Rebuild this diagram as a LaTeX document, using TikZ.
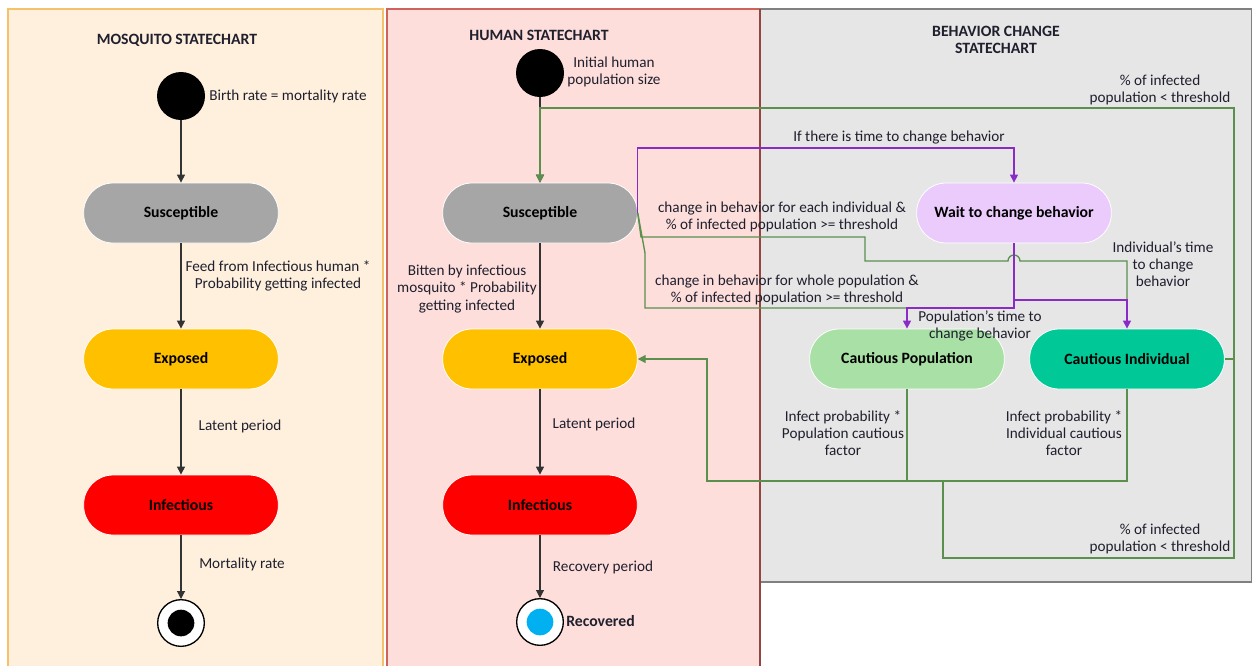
\documentclass[tikz,border=0pt]{standalone}
\usepackage{fontspec}
\setmainfont{Carlito}
\usetikzlibrary{arrows.meta}
\definecolor{mosfill}{HTML}{FEF0DD}
\definecolor{mosline}{HTML}{F5C26B}
\definecolor{humfill}{HTML}{FDDEDB}
\definecolor{humline}{HTML}{D0625C}
\definecolor{behfill}{HTML}{E6E6E6}
\definecolor{behline}{HTML}{808080}
\definecolor{susc}{HTML}{A6A6A6}
\definecolor{expo}{HTML}{FFC000}
\definecolor{infe}{HTML}{FF0000}
\definecolor{waitc}{HTML}{EACBFB}
\definecolor{cpopc}{HTML}{A8E0A5}
\definecolor{cindc}{HTML}{00C896}
\definecolor{recc}{HTML}{00B0F0}
\definecolor{grn}{HTML}{5A8F4E}
\definecolor{prp}{HTML}{8A2BC8}
\definecolor{txt}{HTML}{1F1F2E}
\begin{document}
\begin{tikzpicture}[x=0.75pt,y=-0.75pt,
  state/.style={rectangle, rounded corners=22pt, minimum width=146pt, minimum height=45pt, draw=white, line width=0.6pt, font=\bfseries\fontsize{11.8}{13}\selectfont, text=black},
  lbl/.style={font=\fontsize{11.4}{12.8}\selectfont, text=txt, align=center, inner sep=0pt},
  ttl/.style={font=\bfseries\fontsize{11.8}{12.5}\selectfont, text=txt, align=center, inner sep=0pt},
  initst/.style={circle, fill=black, minimum size=36pt, inner sep=0pt},
  finst/.style={circle, draw=black, line width=1pt, fill=white, minimum size=35pt, inner sep=0pt},
  fincore/.style={circle, minimum size=20pt, inner sep=0pt},
  tr/.style={draw=black!80, line width=0.8pt, -{Triangle[width=6pt,length=6pt]}},
  gtr/.style={draw=grn, line width=1pt},
  ptr/.style={draw=prp, line width=1pt},
  tip/.style={-{Triangle[width=6pt,length=6pt]}},
]
\path[use as bounding box] (0,0) rectangle (1252,665);
\clip (0,0) rectangle (1252,665);
\fill[white] (0,0) rectangle (1252,665);
% panels
\draw[mosline, fill=mosfill, line width=1pt] (8,9) rectangle (383,675);
\draw[humline, fill=humfill, line width=1pt] (387,9) rectangle (760,675);
\draw[behline, fill=behfill, line width=1pt] (760,9) rectangle (1251.5,582);
\draw[humline!70!black, line width=1pt] (760,9) -- (760,675);
% titles
\node[ttl] (tmos) at (177,40) {MOSQUITO STATECHART};
\node[ttl] (thum) at (539,35) {HUMAN STATECHART};
\node[ttl] (tbeh) at (996,40) {BEHAVIOR CHANGE\\STATECHART};
% mosquito states
\node[initst] (minit) at (181,96) {};
\node[state, fill=susc] (msus) at (181,213) {Susceptible};
\node[state, fill=expo] (mexp) at (181,359) {Exposed};
\node[state, fill=infe] (minf) at (181,505) {Infectious};
\node[finst] (mfin) at (181,623) {};
\node[fincore, fill=black] (mfinc) at (mfin) {};
% human states
\node[initst] (hinit) at (540,73) {};
\node[state, fill=susc] (hsus) at (540,213) {Susceptible};
\node[state, fill=expo] (hexp) at (540,359) {Exposed};
\node[state, fill=infe] (hinf) at (540,505) {Infectious};
\node[finst] (hfin) at (540,622) {};
\node[fincore, fill=recc] (hfinc) at (hfin) {};
% behavior states
\node[state, fill=waitc] (wait) at (1014,213) {Wait to change behavior};
\node[state, fill=cpopc] (cpop) at (907,359) {Cautious Population};
\node[state, fill=cindc] (cind) at (1127,359) {Cautious Individual};
% mosquito transitions
\draw[tr] (minit) -- (msus);
\draw[tr] (msus) -- (mexp);
\draw[tr] (mexp) -- (minf);
\draw[tr] (minf) -- (mfin);
% human transitions
\draw[tr] (hinit) -- (hsus);
\draw[tr] (hsus) -- (hexp);
\draw[tr] (hexp) -- (hinf);
\draw[tr] (hinf) -- (hfin);
% coordinates
\coordinate (gtopR) at (1234,108);
\coordinate (gmidR) at (1234,359);
\coordinate (gbotR) at (1234,558);
\coordinate (gbotL) at (943,558);
\coordinate (gjoin) at (943,481);
\coordinate (gleftB) at (707,481);
\coordinate (gleftT) at (707,359);
\coordinate (pind) at (1127,300);
\coordinate (ppop) at (907,308);
% green transitions
\draw[gtr, tip] (cind.east) -- (gmidR) -- (gtopR) -- (hsus.north |- gtopR) -- (hsus.north);
\draw[gtr] (gjoin) -- (gbotL) -- (gbotR) -- (gmidR);
\draw[gtr] (cpop.south) -- (cpop.south |- gjoin);
\draw[gtr, tip] (cind.south) -- (cind.south |- gjoin) -- (gleftB) -- (gleftT) -- (hexp.east);
\draw[gtr] (hsus.east) -- (645,253) -- (645,308) -- (ppop);
\draw[gtr] (hsus.east) -- (641,237) -- (865,237) -- (865,261) -- (1008,261)
   arc[start angle=180, end angle=0, radius=4.5pt] -- (1127,261) -- (pind);
% purple transitions
\draw[ptr, tip] (hsus.east) -- (hsus.east |- 0,148) -- (wait.north |- 0,148) -- (wait.north);
\draw[ptr, tip] (wait.south) -- (wait.south |- pind) -- (pind) -- (cind.north);
\draw[ptr, tip] (wait.south) -- (wait.south |- ppop) -- (ppop) -- (cpop.north);
% labels
\node[lbl, anchor=west] (lbirth) at (209,96) {Birth rate = mortality rate};
\node[lbl] (lfeed) at (278,276) {Feed from Infectious human *\\Probability getting infected};
\node[lbl] (lmlat) at (240,426) {Latent period};
\node[lbl] (lmort) at (242,564) {Mortality rate};
\node[lbl] (linit) at (614,72) {Initial human\\population size};
\node[lbl] (lbit) at (467,289) {Bitten by infectious\\mosquito * Probability\\getting infected};
\node[lbl] (lhlat) at (594,424) {Latent period};
\node[lbl] (lrec) at (603,567) {Recovery period};
\node[ttl, anchor=west] (lrecd) at (566,621) {Recovered};
\node[lbl] (ltime) at (899,138) {If there is time to change behavior};
\node[lbl] (leach) at (782,217) {change in behavior for each individual \&\\\% of infected population >= threshold};
\node[lbl] (lwhole) at (787,290) {change in behavior for whole population \&\\\% of infected population >= threshold};
\node[lbl] (lpopt) at (980,326) {Population’s time to\\change behavior};
\node[lbl] (lindt) at (1163,264) {Individual’s time\\to change\\behavior};
\node[lbl] (lthrT) at (1160,90) {\% of infected\\population < threshold};
\node[lbl] (lthrB) at (1160,539) {\% of infected\\population < threshold};
\node[lbl] (lpopf) at (843,433) {Infect probability *\\Population cautious\\factor};
\node[lbl] (lindf) at (1064,433) {Infect probability *\\Individual cautious\\factor};
\end{tikzpicture}
\end{document}
